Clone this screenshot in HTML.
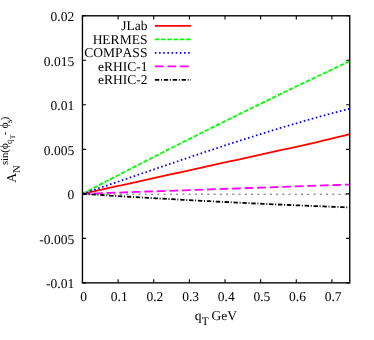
<!DOCTYPE html>
<html><head><meta charset="utf-8"><title>plot</title>
<style>
html,body{margin:0;padding:0;background:#fff;}
body{width:374px;height:340px;overflow:hidden;position:relative;}
svg text{font-family:"Liberation Serif",serif;font-size:13.5px;fill:#000;text-rendering:geometricPrecision;font-kerning:none;}
</style></head><body>
<svg width="374" height="340" viewBox="0 0 374 340" style="position:absolute;left:0;top:0;will-change:transform">
<rect width="374" height="340" fill="#fff"/>
<path d="M82.45,194.18 H349.75" stroke="#5a5a5a" stroke-width="1.0" stroke-dasharray="2 4.247" stroke-dashoffset="0.05" fill="none"/>
<path d="M82.45,193.83 L89.13,192.36 L95.81,190.89 L102.50,189.42 L109.18,187.95 L115.86,186.48 L122.55,185.01 L129.23,183.54 L135.91,182.07 L142.59,180.60 L149.28,179.13 L155.96,177.66 L162.64,176.19 L169.32,174.72 L176.00,173.25 L182.69,171.78 L189.37,170.31 L196.05,168.84 L202.74,167.37 L209.42,165.90 L216.10,164.43 L222.78,162.96 L229.47,161.49 L236.15,160.02 L242.83,158.55 L249.51,157.08 L256.19,155.61 L262.88,154.14 L269.56,152.67 L276.24,151.20 L282.93,149.73 L289.61,148.26 L296.29,146.79 L302.97,145.31 L309.66,143.80 L316.34,142.26 L323.02,140.69 L329.70,139.09 L336.38,137.47 L343.07,135.81 L349.75,134.13" stroke="#ff0000" stroke-width="1.8" fill="none"/>
<path d="M82.45,193.83 L89.13,190.33 L95.81,186.84 L102.50,183.36 L109.18,179.89 L115.86,176.43 L122.55,172.97 L129.23,169.53 L135.91,166.09 L142.59,162.67 L149.28,159.25 L155.96,155.85 L162.64,152.45 L169.32,149.06 L176.00,145.68 L182.69,142.31 L189.37,138.95 L196.05,135.60 L202.74,132.26 L209.42,128.93 L216.10,125.61 L222.78,122.30 L229.47,118.99 L236.15,115.70 L242.83,112.41 L249.51,109.14 L256.19,105.87 L262.88,102.62 L269.56,99.37 L276.24,96.13 L282.93,92.90 L289.61,89.68 L296.29,86.47 L302.97,83.27 L309.66,80.08 L316.34,76.90 L323.02,73.73 L329.70,70.57 L336.38,67.41 L343.07,64.27 L349.75,61.13" stroke="#00ff00" stroke-width="1.8" stroke-dasharray="4.5 1.75" fill="none"/>
<path d="M82.45,193.83 L89.13,191.57 L95.81,189.30 L102.50,187.02 L109.18,184.73 L115.86,182.44 L122.55,180.15 L129.23,177.86 L135.91,175.56 L142.59,173.27 L149.28,170.97 L155.96,168.68 L162.64,166.39 L169.32,164.11 L176.00,161.83 L182.69,159.56 L189.37,157.30 L196.05,155.05 L202.74,152.81 L209.42,150.59 L216.10,148.37 L222.78,146.17 L229.47,143.99 L236.15,141.82 L242.83,139.67 L249.51,137.54 L256.19,135.43 L262.88,133.34 L269.56,131.28 L276.24,129.24 L282.93,127.22 L289.61,125.23 L296.29,123.27 L302.97,121.34 L309.66,119.43 L316.34,117.56 L323.02,115.72 L329.70,113.92 L336.38,112.15 L343.07,110.41 L349.75,108.71" stroke="#0000ff" stroke-width="1.8" stroke-dasharray="1.6 2.56" fill="none"/>
<path d="M82.45,193.83 L89.13,193.60 L95.81,193.37 L102.50,193.14 L109.18,192.90 L115.86,192.67 L122.55,192.44 L129.23,192.21 L135.91,191.97 L142.59,191.74 L149.28,191.51 L155.96,191.28 L162.64,191.04 L169.32,190.81 L176.00,190.58 L182.69,190.35 L189.37,190.11 L196.05,189.88 L202.74,189.65 L209.42,189.42 L216.10,189.18 L222.78,188.95 L229.47,188.72 L236.15,188.49 L242.83,188.25 L249.51,188.02 L256.19,187.79 L262.88,187.56 L269.56,187.32 L276.24,187.09 L282.93,186.86 L289.61,186.63 L296.29,186.39 L302.97,186.16 L309.66,185.93 L316.34,185.70 L323.02,185.46 L329.70,185.23 L336.38,185.00 L343.07,184.77 L349.75,184.53" stroke="#ff00ff" stroke-width="1.8" stroke-dasharray="8.8 3.75" stroke-dashoffset="0.9" fill="none"/>
<path d="M82.45,193.83 L89.13,194.26 L95.81,194.69 L102.50,195.11 L109.18,195.53 L115.86,195.94 L122.55,196.35 L129.23,196.75 L135.91,197.15 L142.59,197.54 L149.28,197.93 L155.96,198.31 L162.64,198.69 L169.32,199.07 L176.00,199.44 L182.69,199.80 L189.37,200.16 L196.05,200.52 L202.74,200.87 L209.42,201.22 L216.10,201.56 L222.78,201.90 L229.47,202.23 L236.15,202.56 L242.83,202.88 L249.51,203.20 L256.19,203.52 L262.88,203.83 L269.56,204.13 L276.24,204.43 L282.93,204.73 L289.61,205.02 L296.29,205.31 L302.97,205.59 L309.66,205.87 L316.34,206.14 L323.02,206.41 L329.70,206.67 L336.38,206.93 L343.07,207.18 L349.75,207.43" stroke="#000" stroke-width="1.8" stroke-dasharray="4.4 1.7 1.0 1.8" fill="none"/>
<path d="M154.9,25.8 H191.0" stroke="#ff0000" stroke-width="1.8" fill="none"/>
<path d="M154.9,39.3 H191.0" stroke="#00ff00" stroke-width="1.8" stroke-dasharray="4.5 1.75" fill="none"/>
<path d="M154.9,52.8 H191.0" stroke="#0000ff" stroke-width="1.8" stroke-dasharray="1.6 2.56" fill="none"/>
<path d="M154.9,66.3 H191.0" stroke="#ff00ff" stroke-width="1.8" stroke-dasharray="8.8 3.75" fill="none"/>
<path d="M154.9,79.8 H191.0" stroke="#000" stroke-width="1.8" stroke-dasharray="4.4 1.7 1.0 1.8" fill="none"/>
<text x="147.4" y="30.40" text-anchor="end">JLab</text>
<text x="147.4" y="43.90" text-anchor="end">HERMES</text>
<text x="147.4" y="57.40" text-anchor="end">COMPASS</text>
<text x="147.4" y="70.90" text-anchor="end">eRHIC-1</text>
<text x="147.4" y="84.40" text-anchor="end">eRHIC-2</text>
<rect x="82.45" y="15.8" width="267.30" height="267.05" fill="none" stroke="#000" stroke-width="1.35"/>
<path d="M82.45,282.85 v-3.6 M82.45,15.8 v3.6 M118.09,282.85 v-3.6 M118.09,15.8 v3.6 M153.73,282.85 v-3.6 M153.73,15.8 v3.6 M189.37,282.85 v-3.6 M189.37,15.8 v3.6 M225.01,282.85 v-3.6 M225.01,15.8 v3.6 M260.65,282.85 v-3.6 M260.65,15.8 v3.6 M296.29,282.85 v-3.6 M296.29,15.8 v3.6 M331.93,282.85 v-3.6 M331.93,15.8 v3.6 M82.45,15.80 h3.6 M349.75,15.80 h-3.6 M82.45,60.31 h3.6 M349.75,60.31 h-3.6 M82.45,104.82 h3.6 M349.75,104.82 h-3.6 M82.45,149.33 h3.6 M349.75,149.33 h-3.6 M82.45,193.83 h3.6 M349.75,193.83 h-3.6 M82.45,238.34 h3.6 M349.75,238.34 h-3.6 M82.45,282.85 h3.6 M349.75,282.85 h-3.6" stroke="#000" stroke-width="1.1" fill="none"/>
<text x="83.65" y="301.35" text-anchor="middle">0</text>
<text x="119.29" y="301.35" text-anchor="middle">0.1</text>
<text x="154.93" y="301.35" text-anchor="middle">0.2</text>
<text x="190.57" y="301.35" text-anchor="middle">0.3</text>
<text x="226.21" y="301.35" text-anchor="middle">0.4</text>
<text x="261.85" y="301.35" text-anchor="middle">0.5</text>
<text x="297.49" y="301.35" text-anchor="middle">0.6</text>
<text x="333.13" y="301.35" text-anchor="middle">0.7</text>
<text x="74.2" y="21.00" text-anchor="end">0.02</text>
<text x="74.2" y="65.51" text-anchor="end">0.015</text>
<text x="74.2" y="110.02" text-anchor="end">0.01</text>
<text x="74.2" y="154.53" text-anchor="end">0.005</text>
<text x="74.2" y="199.03" text-anchor="end">0</text>
<text x="74.2" y="243.54" text-anchor="end">-0.005</text>
<text x="74.2" y="288.05" text-anchor="end">-0.01</text>
<text x="194.7" y="319.9">q</text><text x="201.85" y="324.7" style="font-size:11.4px">T</text><text x="211.6" y="319.9">GeV</text>
<text transform="translate(16.0,182.8) rotate(-90)" font-size="13.5" style="font-size:13.5px">A</text>
<text transform="translate(19.9,173.05) rotate(-90)" font-size="10.6" style="font-size:10.6px">N</text>
<text transform="translate(8.1,165.0) rotate(-90)" font-size="10.6" style="font-size:10.6px">sin(</text>
<text transform="translate(8.4,149.25) rotate(-90)" font-size="11.6" style="font-size:11.6px">ϕ</text>
<text transform="translate(12.1,143.9) rotate(-90)" font-size="9.0" style="font-size:9.0px">q</text>
<text transform="translate(15.0,139.0) rotate(-90)" font-size="7.0" style="font-size:7.0px">T</text>
<text transform="translate(8.1,135.36) rotate(-90)" font-size="10.6" style="font-size:10.6px">-</text>
<text transform="translate(8.4,128.6) rotate(-90)" font-size="11.6" style="font-size:11.6px">ϕ</text>
<text transform="translate(12.3,123.1) rotate(-90)" font-size="9.0" style="font-size:9.0px">s</text>
<text transform="translate(8.1,120.2) rotate(-90)" font-size="10.6" style="font-size:10.6px">)</text>
</svg>
</body></html>
